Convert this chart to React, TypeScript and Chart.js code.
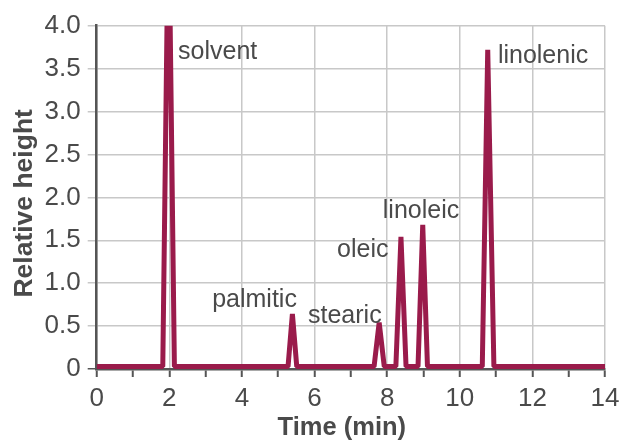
import React, { useEffect, useRef } from "react";
import { Chart, registerables } from "chart.js";

Chart.register(...registerables);

// Chromatogram polyline: retention time (min) and relative height
const times = [0, 1.82, 1.98, 2.14, 5.27, 5.39, 5.51, 7.64, 7.78, 7.92, 8.24, 8.38, 8.52, 8.85, 8.98, 9.11, 10.62, 10.77, 10.94, 14];
const heights = [0.03, 0.03, 5.5, 0.03, 0.03, 0.64, 0.03, 0.03, 0.54, 0.03, 0.03, 1.54, 0.03, 0.03, 1.68, 0.03, 0.03, 3.72, 0.03, 0.03];

// Peak annotations (left edge time, baseline height)
const peakNames = ["solvent", "palmitic", "stearic", "oleic", "linoleic", "linolenic"];
const peakLabelX = [2.24, 3.18, 5.82, 6.62, 7.88, 11.05];
const peakLabelY = [3.61, 0.72, 0.54, 1.31, 1.76, 3.57];

const xTitle = "Time (min)";
const yTitle = "Relative height";

const xMin = 0;
const xMax = 14;
const yMin = 0;
const yMax = 4;

const FONT = "'Liberation Sans', Arial, Helvetica, sans-serif";
const TEXT = "#4a4a4a";
const GRID = "#c8c8c8";
const AXIS = "#555555";
const LINE = "#9a1b4b";

const peakLabelsPlugin = {
  id: "peakLabels",
  afterDatasetsDraw(chart: any) {
    const { ctx, scales, chartArea } = chart;
    ctx.save();
    ctx.font = `25px ${FONT}`;
    ctx.fillStyle = TEXT;
    ctx.textAlign = "left";
    ctx.textBaseline = "alphabetic";
    peakNames.forEach((name, i) => {
      ctx.fillText(name, scales.x.getPixelForValue(peakLabelX[i]), scales.y.getPixelForValue(peakLabelY[i]));
    });
    // axis titles
    ctx.font = `bold 25.5px ${FONT}`;
    ctx.textAlign = "center";
    ctx.fillText(xTitle, (chartArea.left + chartArea.right) / 2 - 9, chartArea.bottom + 66);
    ctx.save();
    ctx.font = `bold 26.5px ${FONT}`;
    ctx.translate(chartArea.left - 65, (chartArea.top + chartArea.bottom) / 2 + 6);
    ctx.rotate(-Math.PI / 2);
    ctx.fillText(yTitle, 0, 0);
    ctx.restore();
    ctx.restore();
  },
};

export default function App() {
  const ref = useRef<HTMLCanvasElement>(null);
  useEffect(() => {
    if (!ref.current) return;
    const chart = new Chart(ref.current, {
      type: "line",
      data: {
        datasets: [
          {
            data: times.map((t, i) => ({ x: t, y: heights[i] })),
            borderColor: LINE,
            borderWidth: 5,
            borderJoinStyle: "bevel",
            pointRadius: 0,
            tension: 0,
            fill: false,
            clip: 0,
          } as any,
        ],
      },
      options: {
        responsive: false,
        animation: false,
        devicePixelRatio: 1,
        layout: { padding: { top: 25.7, right: 14, left: 0, bottom: 0 } },
        plugins: { legend: { display: false }, tooltip: { enabled: false } },
        scales: {
          x: {
            type: "linear",
            min: xMin,
            max: xMax,
            afterFit: (s: any) => {
              s.height = 71;
              s.paddingLeft = 0;
              s.paddingRight = 0;
            },
            ticks: {
              stepSize: 1,
              autoSkip: false,
              maxRotation: 0,
              padding: 6,
              color: TEXT,
              font: { family: FONT, size: 26 },
              callback: (v: any) => (Number(v) % 2 === 0 ? String(v) : ""),
            },
            grid: {
              color: (c: any) => (c.tick && c.tick.value % 2 === 0 ? GRID : "rgba(0,0,0,0)"),
              tickColor: AXIS,
              tickLength: 8,
              tickWidth: 2,
              lineWidth: 1.5,
            },
            border: { color: AXIS, width: 2.5 },
          },
          y: {
            min: yMin,
            max: yMax,
            afterFit: (s: any) => {
              s.width = 96.7;
              s.paddingTop = 0;
              s.paddingBottom = 0;
            },
            ticks: {
              stepSize: 0.5,
              padding: 7,
              color: TEXT,
              font: { family: FONT, size: 26 },
              callback: (v: any) => (Number(v) === 0 ? "0" : Number(v).toFixed(1)),
            },
            grid: {
              color: GRID,
              tickColor: (c: any) => (c.tick && c.tick.value === 0 ? AXIS : GRID),
              tickLength: 9,
              lineWidth: 1.5,
            },
            border: { color: AXIS, width: 2.5 },
          },
        },
      },
      plugins: [peakLabelsPlugin],
    });
    return () => chart.destroy();
  }, []);
  return (
    <div style={{ position: "fixed", left: 0, top: 0, width: 619, height: 440, background: "#fff" }}>
      <canvas ref={ref} width={619} height={440} />
    </div>
  );
}
